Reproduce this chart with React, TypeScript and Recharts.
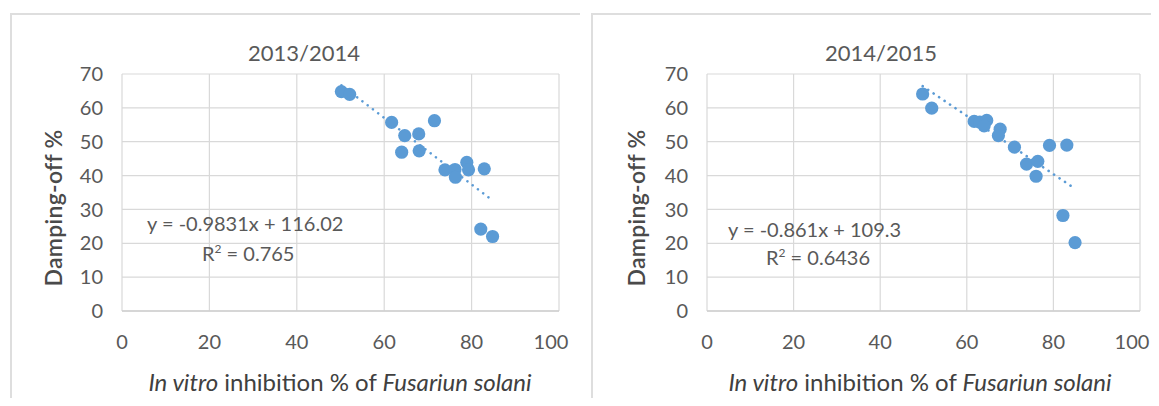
import React from 'react';
import { ScatterChart, Scatter, XAxis, YAxis, CartesianGrid, ReferenceLine } from 'recharts';

// 2013/2014 season
const inhibition1 = [50.2, 52.1, 61.7, 64.7, 67.9, 71.5, 64.0, 68.0, 73.9, 76.2, 76.3, 78.9, 79.3, 82.9, 82.1, 84.8];
const damping1 = [64.8, 64.0, 55.7, 51.8, 52.3, 56.2, 46.9, 47.3, 41.7, 41.8, 39.5, 43.9, 41.7, 42.0, 24.2, 22.0];

// 2014/2015 season
const inhibition2 = [49.8, 51.9, 61.7, 63.0, 64.6, 64.0, 67.7, 67.3, 71.0, 73.8, 76.4, 76.0, 79.1, 83.1, 82.2, 85.0];
const damping2 = [64.1, 59.9, 56.0, 55.8, 56.3, 54.7, 53.7, 51.8, 48.4, 43.4, 44.2, 39.8, 48.9, 49.0, 28.2, 20.2];

const xTicks = [0, 20, 40, 60, 80, 100];
const yTicks = [0, 10, 20, 30, 40, 50, 60, 70];

const BLUE = '#5b9bd5';
const GRID = '#d9d9d9';
const TEXT = '#595959';
const FONT = 'Lato, "Open Sans", sans-serif';

// Excel nudges the last x label inwards
function XTick({ x, y, payload }: any) {
  const shift = payload.value === 100 ? -8 : 0;
  return (
    <text x={x + shift} y={y} dy="0.71em" textAnchor="middle" fill={TEXT} fontSize={20} fontFamily={FONT}>
      {payload.value}
    </text>
  );
}

interface PanelProps {
  xs: number[];
  ys: number[];
  slope: number;
  intercept: number;
  left: number;
  width: number;
  marginLeft: number;
  marginRight: number;
}

function Panel({ xs, ys, slope, intercept, left, width, marginLeft, marginRight }: PanelProps) {
  const data = xs.map((x, i) => ({ x, y: ys[i] }));
  const x0 = Math.min(...xs);
  const x1 = Math.max(...xs);
  return (
    <div style={{ position: 'absolute', left, top: 0 }}>
      <ScatterChart
        width={width}
        height={406}
        margin={{ top: 74, right: marginRight, left: marginLeft, bottom: 65 }}
      >
        <CartesianGrid stroke={GRID} strokeWidth={1.2} />
        <XAxis
          type="number"
          dataKey="x"
          domain={[0, 100]}
          ticks={xTicks}
          tickLine={false}
          axisLine={{ stroke: '#cfcfcf', strokeWidth: 1.5 }}
          tick={<XTick />}
          tickMargin={18}
          height={30}
        />
        <YAxis
          type="number"
          dataKey="y"
          domain={[0, 70]}
          ticks={yTicks}
          tickLine={false}
          axisLine={false}
          tick={{ fill: TEXT, fontSize: 20, fontFamily: FONT }}
          tickMargin={13}
          width={40}
        />
        <ReferenceLine
          segment={[
            { x: x0, y: slope * x0 + intercept },
            { x: x1, y: slope * x1 + intercept },
          ]}
          stroke={BLUE}
          strokeWidth={2.6}
          strokeDasharray="0.1 6.5"
          strokeLinecap="round"
        />
        <Scatter
          data={data}
          fill={BLUE}
          isAnimationActive={false}
          shape={(p: any) => <circle cx={p.cx} cy={p.cy} r={6.6} fill={BLUE} />}
        />
      </ScatterChart>
    </div>
  );
}

const abs = (left: number, top: number, extra: React.CSSProperties = {}): React.CSSProperties => ({
  position: 'absolute',
  left,
  top,
  whiteSpace: 'nowrap',
  ...extra,
});

function XTitle({ cx }: { cx: number }) {
  return (
    <div style={abs(cx, 381, { transform: 'translate(-50%, -50%)', fontSize: 24, color: '#404040' })}>
      <i>In vitro</i> inhibition % of <i>Fusariun solani</i>
    </div>
  );
}

function YTitle({ cx }: { cx: number }) {
  return (
    <div
      style={abs(cx, 208, {
        transform: 'translate(-50%, -50%) rotate(-90deg)',
        fontSize: 23,
        fontWeight: 600,
        letterSpacing: 0.3,
        color: '#4a4a4a',
      })}
    >
      Damping-off %
    </div>
  );
}

export default function App() {
  const border = '2px solid #dedede';
  return (
    <div
      style={{
        position: 'relative',
        width: 1159,
        height: 406,
        margin: -8,
        background: '#fff',
        overflow: 'hidden',
        fontFamily: FONT,
      }}
    >
      <div style={abs(10, 13, { width: 568, height: 400, borderTop: border, borderLeft: border })} />
      <div style={abs(591, 13, { width: 570, height: 400, borderTop: border, borderLeft: border })} />

      <Panel xs={inhibition1} ys={damping1} slope={-0.9831} intercept={116.02}
        left={0} width={580} marginLeft={82} marginRight={21} />
      <Panel xs={inhibition2} ys={damping2} slope={-0.861} intercept={109.3}
        left={580} width={620} marginLeft={87} marginRight={60} />

      <div style={abs(304, 52, { transform: 'translate(-50%, -50%)', fontSize: 22, color: TEXT })}>2013/2014</div>
      <div style={abs(881, 52, { transform: 'translate(-50%, -50%)', fontSize: 22, color: TEXT })}>2014/2015</div>

      <YTitle cx={53} />
      <YTitle cx={636} />
      <XTitle cx={340} />
      <XTitle cx={920} />

      <div style={abs(147, 223, { transform: 'translateY(-50%)', fontSize: 20, color: TEXT })}>y = -0.9831x + 116.02</div>
      <div style={abs(202, 253, { transform: 'translateY(-50%)', fontSize: 20, color: TEXT })}>
        R<sup style={{ fontSize: 12 }}>2</sup> = 0.765
      </div>
      <div style={abs(728, 229, { transform: 'translateY(-50%)', fontSize: 20, color: TEXT })}>y = -0.861x + 109.3</div>
      <div style={abs(766, 257, { transform: 'translateY(-50%)', fontSize: 20, color: TEXT })}>
        R<sup style={{ fontSize: 12 }}>2</sup> = 0.6436
      </div>
    </div>
  );
}
